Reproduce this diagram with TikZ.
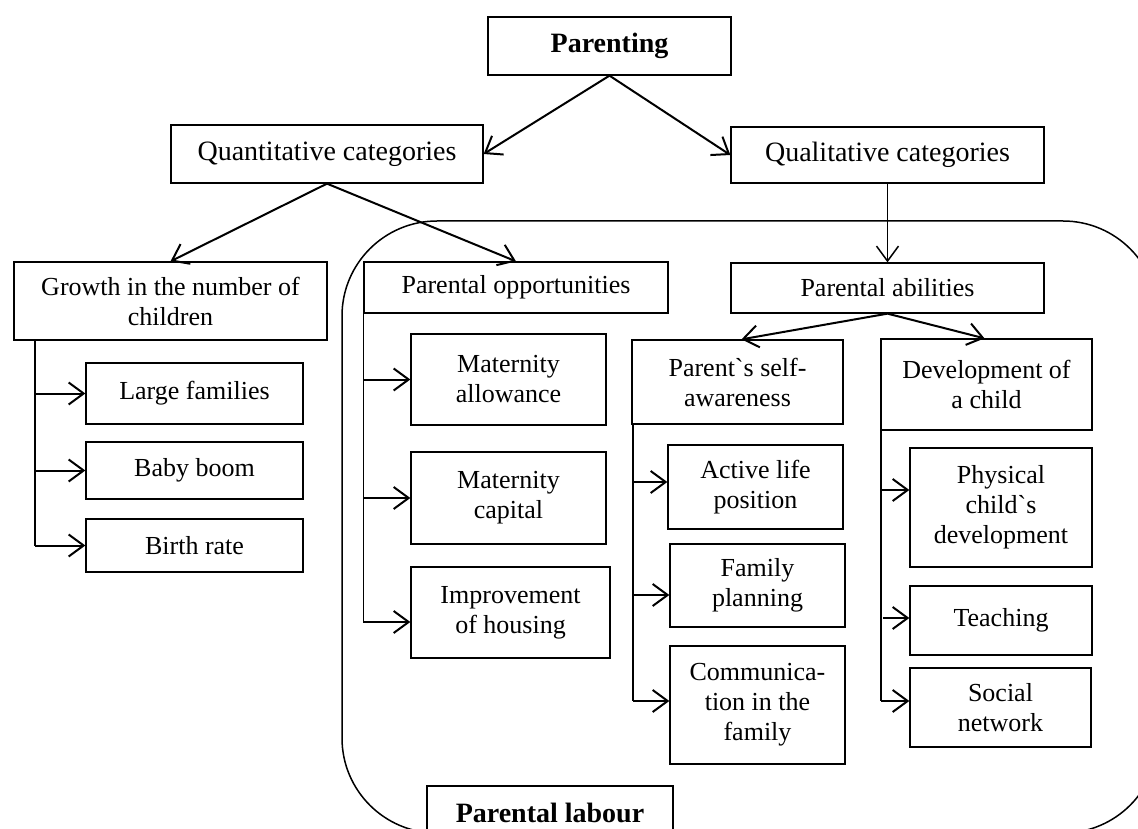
\documentclass[tikz,border=0pt]{standalone}
\usepackage{fontspec}
\setmainfont{Liberation Serif}
\usetikzlibrary{arrows.meta}
\newcommand{\grv}{{\addfontfeature{Ligatures=TeXOff}`}}
\begin{document}
\begin{tikzpicture}[x=1pt,y=-1pt,
  box/.style={draw, line width=1.3pt, fill=white, inner sep=0pt, align=center,
    font=\fontsize{26pt}{30pt}\selectfont},
  topbox/.style={box, font=\fontsize{28pt}{32pt}\selectfont},
  arr/.style={-{Straight Barb[length=15pt,width=22pt]}, line width=2pt},
  spine/.style={line width=1.8pt},
  frame/.style={draw, line width=1.5pt, rounded corners=95pt}
]
\clip (0,0) rectangle (1138,829);
\fill[white] (0,0) rectangle (1138,829);
% big rounded frame
\draw[frame] (342,221) rectangle (1158,833);

% top level
\node[topbox, minimum width=243pt, minimum height=58pt] (parenting) at (609.5,46) {\bfseries Parenting};
\node[topbox, minimum width=312pt, minimum height=58pt] (quant) at (327,154) {Quantitative categories};
\node[topbox, minimum width=313pt, minimum height=56pt] (qual) at (887.5,155) {Qualitative categories};

% second level
\node[box, minimum width=313pt, minimum height=78pt] (growth) at (170.5,301) {Growth in the number of\\children};
\node[box, minimum width=304pt, minimum height=51pt] (opp) at (516,287.5) {Parental opportunities};
\node[box, minimum width=313pt, minimum height=50pt] (abil) at (887.5,288) {Parental abilities};

% growth children
\node[box, minimum width=217pt, minimum height=61pt] (large) at (194.5,393.5) {Large families};
\node[box, minimum width=217pt, minimum height=57pt] (baby) at (194.5,470.5) {Baby boom};
\node[box, minimum width=217pt, minimum height=53pt] (birth) at (194.5,545.5) {Birth rate};

% opportunities children
\node[box, minimum width=195pt, minimum height=91pt] (matall) at (508.5,379.5) {Maternity\\allowance};
\node[box, minimum width=195pt, minimum height=92pt] (matcap) at (508.5,498) {Maternity\\capital};
\node[box, minimum width=199pt, minimum height=91pt] (improve) at (510.5,612.5) {Improvement\\of housing};

% abilities level
\node[box, minimum width=211pt, minimum height=84pt] (selfaw) at (737.5,382) {Parent\grv s self-\\awareness};
\node[box, minimum width=211pt, minimum height=91pt] (devch) at (986.5,384.5) {Development of\\a child};

% self-awareness children
\node[box, minimum width=175pt, minimum height=84pt] (active) at (755.5,487) {Active life\\position};
\node[box, minimum width=175pt, minimum height=83pt] (famplan) at (757.5,585.5) {Family\\planning};
\node[box, minimum width=175pt, minimum height=118pt] (comm) at (757.5,705) {Communica-\\tion in the\\family};

% development children
\node[box, minimum width=182pt, minimum height=119pt] (phys) at (1001,507.5) {Physical\\child\grv s\\development};
\node[box, minimum width=182pt, minimum height=69pt] (teach) at (1001,620.5) {Teaching};
\node[box, minimum width=181pt, minimum height=79pt] (social) at (1000.5,707.5) {Social\\network};

% parental labour
\node[topbox, minimum width=246pt, minimum height=54pt] (labour) at (550,813) {\bfseries Parental labour};

% top connectors
\draw[arr] (parenting.south) -- (quant.east);
\draw[arr] (parenting.south) -- (qual.west);
\draw[arr] (quant.south) -- (growth.north);
\draw[arr] (quant.south) -- (opp.north);
\draw[arr, line width=1.5pt] (qual.south) -- (abil.north);
\draw[arr] (abil.south) -- ([xshift=4pt]selfaw.north);
\draw[arr] (abil.south) -- ([xshift=-2pt]devch.north);

% growth spine
\coordinate (g0) at ([xshift=22pt]growth.south west);
\draw[spine] (g0) -- (g0 |- birth.west);
\draw[arr] (g0 |- large.west) -- (large.west);
\draw[arr] (g0 |- baby.west) -- (baby.west);
\draw[arr] (g0 |- birth.west) -- (birth.west);

% opportunities spine
\coordinate (o0) at (opp.south west);
\coordinate (o3) at ([yshift=-9.5pt]improve.west);
\draw[line width=1.3pt] (o0) -- (o0 |- o3);
\draw[arr] (o0 |- matall.west) -- (matall.west);
\draw[arr] (o0 |- matcap.west) -- (matcap.west);
\draw[arr] (o0 |- o3) -- (o3);

% self-awareness spine
\coordinate (s0) at ([xshift=2pt]selfaw.south west);
\coordinate (s1) at ([yshift=5pt]active.west);
\coordinate (s2) at ([yshift=-9.5pt]famplan.west);
\coordinate (s3) at ([yshift=4pt]comm.west);
\draw[spine] (s0) -- (s0 |- s3);
\draw[arr] (s0 |- s1) -- (s1);
\draw[arr] (s0 |- s2) -- (s2);
\draw[arr] (s0 |- s3) -- (s3);

% development spine
\coordinate (d0) at ([xshift=1pt]devch.south west);
\coordinate (d1) at ([yshift=17.5pt]phys.west);
\coordinate (d2) at ([yshift=2.5pt]teach.west);
\coordinate (d3) at ([yshift=6.5pt]social.west);
\draw[spine] ([yshift=9pt]d0) -- (d0 |- d3);
\draw[arr] (d0 |- d1) -- (d1);
\draw[arr] ([xshift=2pt]d0 |- d2) -- (d2);
\draw[arr] (d0 |- d3) -- (d3);
\end{tikzpicture}
\end{document}
